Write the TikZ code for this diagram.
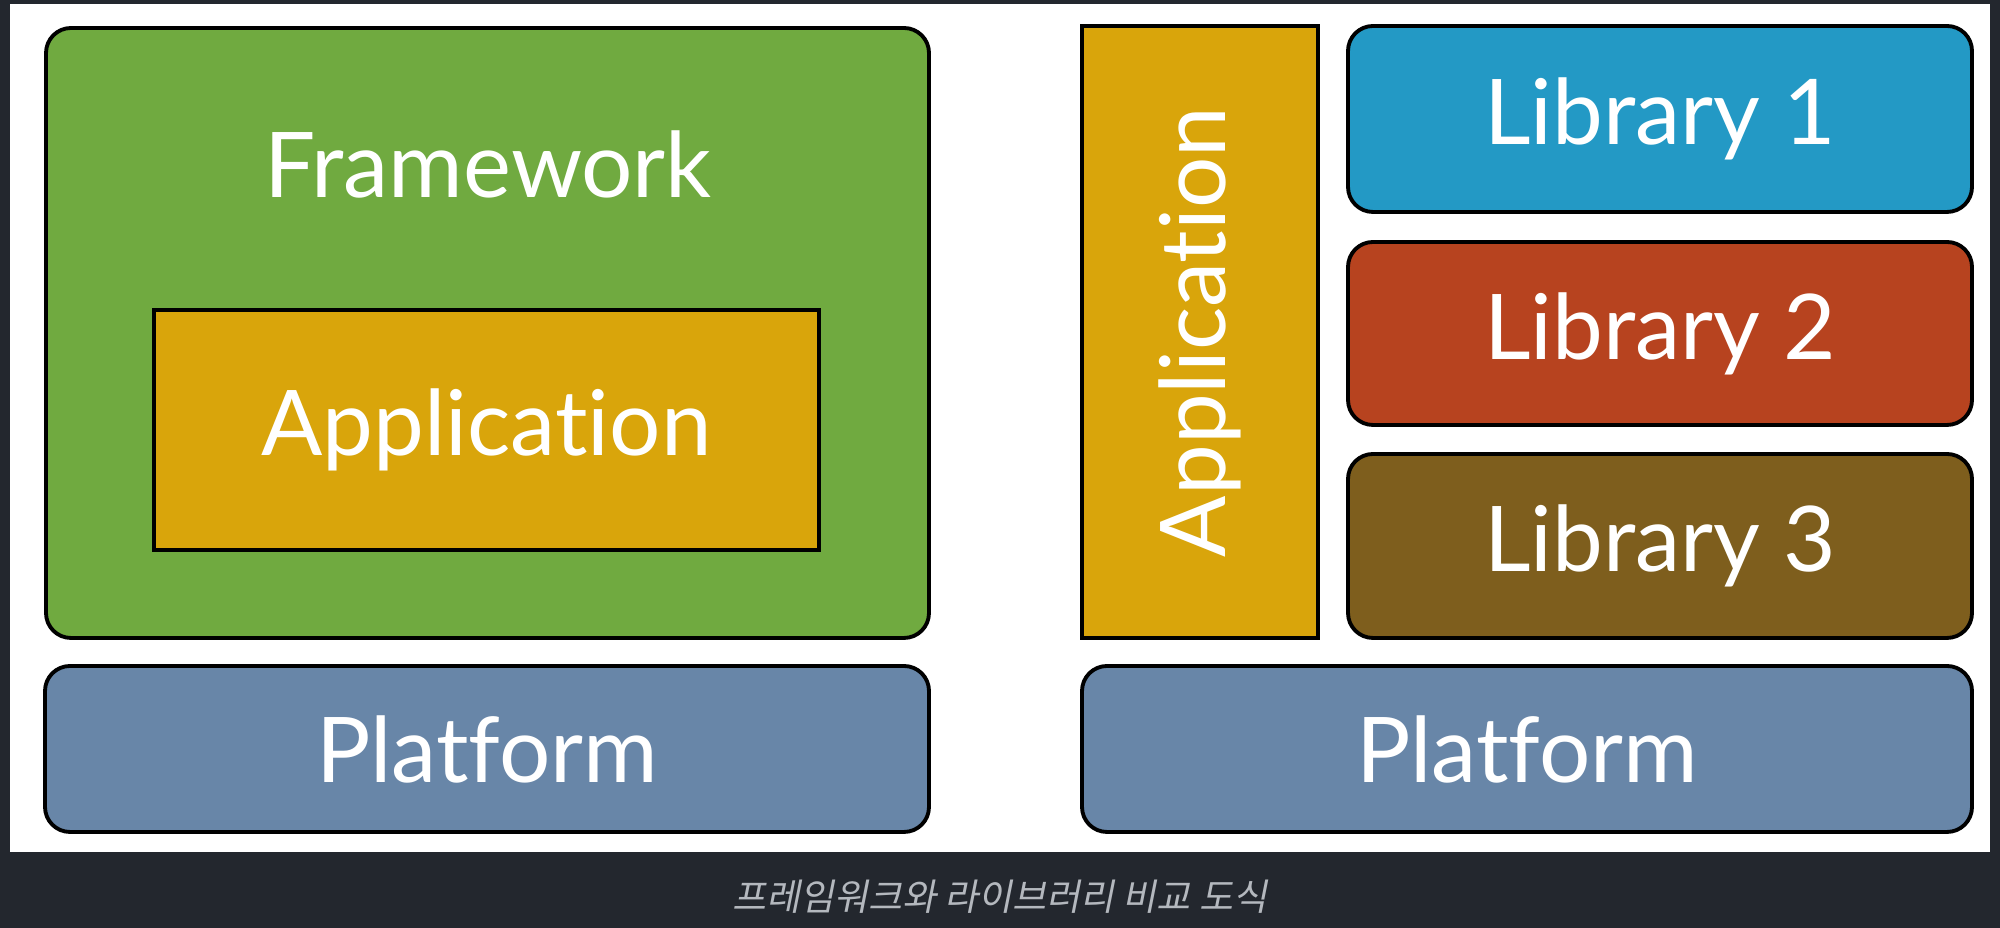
\documentclass[tikz,border=0pt]{standalone}
\usepackage{fontspec}
\setmainfont{Lato}[Ligatures={NoCommon,NoRequired,NoContextual}]
\newfontfamily\krfont[FakeSlant=0.2]{Noto Sans CJK KR}
\usetikzlibrary{positioning}
\definecolor{cbg}{HTML}{23272E}
\definecolor{cgreen}{HTML}{70AA40}
\definecolor{cyellow}{HTML}{D9A50B}
\definecolor{cblue}{HTML}{2399C5}
\definecolor{cred}{HTML}{B7431F}
\definecolor{cbrown}{HTML}{7E5E1D}
\definecolor{cslate}{HTML}{6886A8}
\definecolor{ccaption}{HTML}{B4B8BE}
\tikzset{
  every picture/.style={line width=1.1pt},
  layer/.style={draw=black, fill=#1, rounded corners=0.25cm, inner sep=0pt},
  layer/.default=cslate,
  plain/.style={draw=black, fill=#1, inner sep=0pt},
  plain/.default=cyellow,
  word/.style={text=white, font=\fontsize{25.8}{30}\selectfont},
  caption/.style={text=ccaption, font=\krfont\fontsize{10.5}{13}\selectfont},
}
\begin{document}
\begin{tikzpicture}
  \useasboundingbox (0,0) rectangle (20,9.28);
  \fill[cbg] (0,0) rectangle (20,9.28);
  \fill[white] (0.10,0.76) rectangle (19.90,9.24);
  % framework side
  \node[layer=cgreen, minimum width=8.83cm, minimum height=6.10cm] (fw) at (4.875,5.95) {};
  \node[word] (fwtext) at (4.88,7.64) {Framework};
  \node[plain, minimum width=6.65cm, minimum height=2.40cm, word] (app) at (4.865,4.98) {Application};
  \node[layer, minimum width=8.84cm, minimum height=1.66cm, word] (pfl) at (4.87,1.79) {Platform};
  % library side
  \node[plain, minimum width=2.36cm, minimum height=6.12cm] (appv) at (12.00,5.96) {};
  \node[word, rotate=90] (appvtext) at (appv.center) {Application};
  \node[layer=cblue, minimum width=6.24cm, minimum height=1.86cm, word] (lib1) at (16.60,8.09) {Library 1};
  \node[layer=cred, minimum width=6.24cm, minimum height=1.83cm, word] (lib2) at (16.60,5.945) {Library 2};
  \node[layer=cbrown, minimum width=6.24cm, minimum height=1.84cm, word] (lib3) at (16.60,3.82) {Library 3};
  \node[layer, minimum width=8.90cm, minimum height=1.66cm, word] (pfr) at (15.27,1.79) {Platform};
  % caption
  \node[caption] (cap) at (10.0,0.31) {프레임워크와 라이브러리 비교 도식};
\end{tikzpicture}
\end{document}
